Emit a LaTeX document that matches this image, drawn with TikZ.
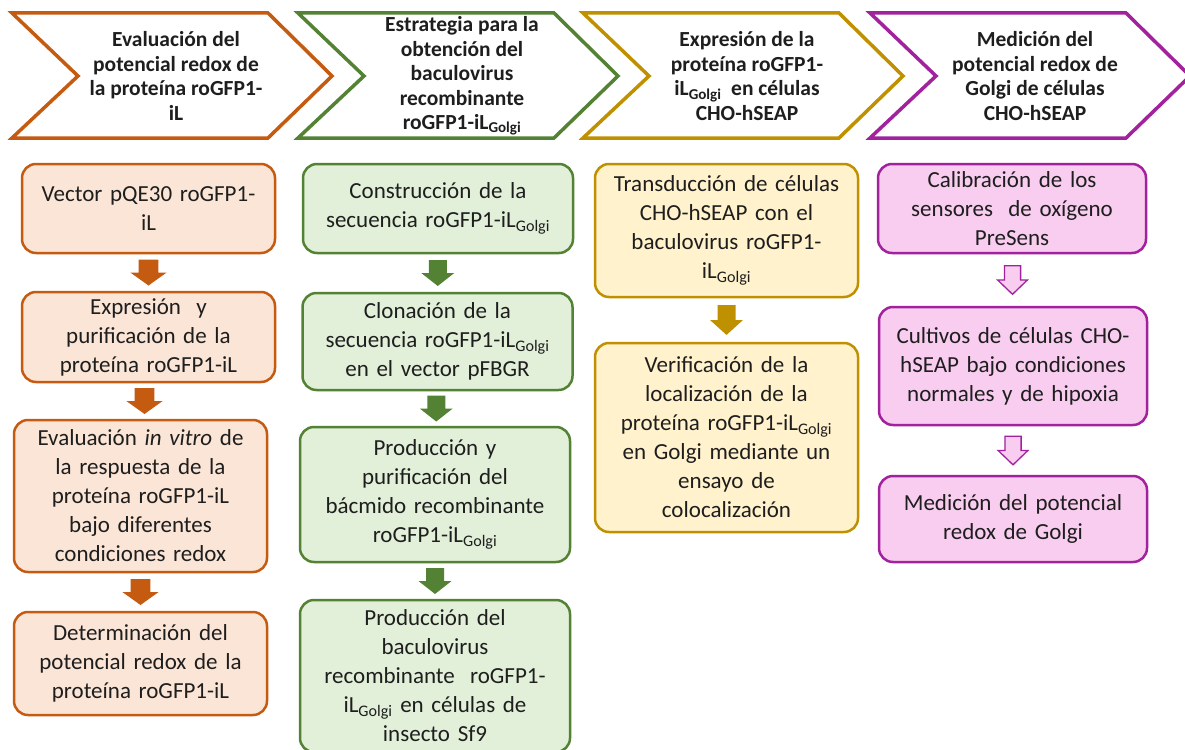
\documentclass[tikz,border=0pt]{standalone}
\usepackage{fontspec}
\setmainfont{Carlito}
\usetikzlibrary{calc,positioning}

\definecolor{orline}{HTML}{C55A11}
\definecolor{orfill}{HTML}{FBE5D6}
\definecolor{grline}{HTML}{548235}
\definecolor{grfill}{HTML}{E2F0D9}
\definecolor{gdline}{HTML}{BF9000}
\definecolor{gdfill}{HTML}{FFF2CC}
\definecolor{puline}{HTML}{A2229E}
\definecolor{pufill}{HTML}{F8CDEF}
\definecolor{txt}{HTML}{1E1E1E}

\newcommand\Golgi{\textsubscript{Golgi}}
% header chevron: colour, left x
\newcommand\chevron[2]{%
\draw[#1,line width=3.5,line join=miter] (#2,13) -- ++(256,0) -- ++(64,63) -- ++(-64,62) -- ++(-256,0) -- ++(66,-62) -- cycle;}
% block arrow between two boxes
\newcommand\flowarrow[3]{%
\path[shift={($(#2.south)!.5!(#3.north)$)},#1] (-9,-13) -- (-9,0) -- (-16.5,0) -- (0,13) -- (16.5,0) -- (9,0) -- (9,-13) -- cycle;}

\tikzset{
  head/.style={align=center,text=txt,font=\bfseries\fontsize{21.5}{24.5}\selectfont},
  box/.style={rounded corners=14,line width=2.5,align=center,inner sep=0pt,text=txt,font=\fontsize{23}{29}\selectfont},
  orbox/.style={box,draw=orline,fill=orfill,text width=247,minimum width=253},
  grbox/.style={box,draw=grline,fill=grfill,text width=264,minimum width=270},
  gdbox/.style={box,draw=gdline,fill=gdfill,text width=257,minimum width=263},
  pubox/.style={box,draw=puline,fill=pufill,text width=262,minimum width=268},
  orarrow/.style={fill=orline,xscale=1.1},
  grarrow/.style={fill=grline},
  gdarrow/.style={fill=gdline,yscale=1.15},
  puarrow/.style={fill=pufill,draw=puline,line width=1.3,xscale=0.9,yscale=1.1}
}

\begin{document}
\begin{tikzpicture}[x=1pt,y=-1pt]
\useasboundingbox[fill=white] (0,0) rectangle (1185,749);

% headers
\chevron{orline}{12}
\chevron{grline}{298}
\chevron{gdline}{583}
\chevron{puline}{870}
\node[head] (h1) at (176,76) {Evaluación del\\potencial redox de\\la proteína roGFP1-\\iL};
\node[head] (h2) at (462,76) {Estrategia para la\\obtención del\\baculovirus\\recombinante\\roGFP1-iL\Golgi};
\node[head] (h3) at (747,76) {Expresión de la\\proteína roGFP1-\\iL\Golgi\ \ en células\\CHO-hSEAP};
\node[head] (h4) at (1035,76) {Medición del\\potencial redox de\\Golgi de células\\CHO-hSEAP};

% column 1
\node[orbox,minimum height=89] (o1) at (148.5,208.5) {Vector pQE30 roGFP1-\\iL};
\node[orbox,minimum height=90] (o2) at (148.5,337) {Expresión\ \ y\\purificación de la\\proteína roGFP1-iL};
\node[orbox,minimum height=152] (o3) at (140.5,496) {Evaluación \textit{in vitro} de\\la respuesta de la\\proteína roGFP1-iL\\bajo diferentes\\condiciones redox};
\node[orbox,minimum height=103] (o4) at (140.5,663.5) {Determinación del\\potencial redox de la\\proteína roGFP1-iL};
\flowarrow{orarrow}{o1}{o2}
\flowarrow{orarrow}{o2}{o3}
\flowarrow{orarrow}{o3}{o4}

% column 2
\node[grbox,minimum height=89] (g1) at (438,208.5) {Construcción de la\\secuencia roGFP1-iL\Golgi};
\node[grbox,minimum height=97] (g2) at (437.5,341.5) {Clonación de la\\secuencia roGFP1-iL\Golgi\\en el vector pFBGR};
\node[grbox,minimum height=135] (g3) at (435,494.5) {Producción y\\purificación del\\bácmido recombinante\\roGFP1-iL\Golgi};
\node[grbox,minimum height=152] (g4) at (435,676) {Producción del\\baculovirus\\recombinante\ \ roGFP1-\\iL\Golgi\ en células de\\insecto Sf9};
\flowarrow{grarrow}{g1}{g2}
\flowarrow{grarrow}{g2}{g3}
\flowarrow{grarrow}{g3}{g4}

% column 3
\node[gdbox,minimum height=133] (y1) at (726.5,230.5) {Transducción de células\\CHO-hSEAP con el\\baculovirus roGFP1-\\iL\Golgi};
\node[gdbox,minimum height=189] (y2) at (726.5,437.5) {Verificación de la\\localización de la\\proteína roGFP1-iL\Golgi\\en Golgi mediante un\\ensayo de\\colocalización};
\flowarrow{gdarrow}{y1}{y2}

% column 4
\node[pubox,minimum height=89] (p1) at (1012,208.5) {Calibración de los\\sensores\ \ de oxígeno\\PreSens};
\node[pubox,minimum height=118] (p2) at (1013,366) {Cultivos de células CHO-\\hSEAP bajo condiciones\\normales y de hipoxia};
\node[pubox,minimum height=86] (p3) at (1013,519) {Medición del potencial\\redox de Golgi};
\flowarrow{puarrow}{p1}{p2}
\flowarrow{puarrow}{p2}{p3}
\end{tikzpicture}
\end{document}
